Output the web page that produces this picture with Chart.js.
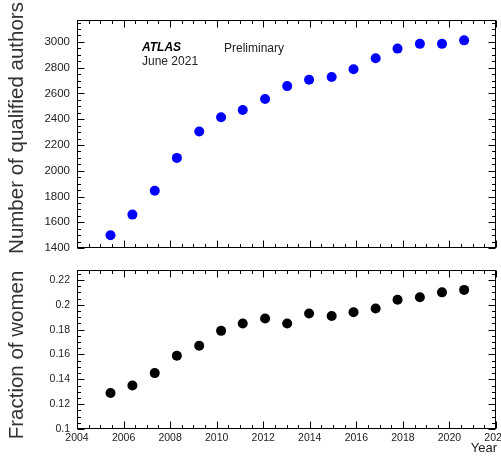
<!DOCTYPE html>
<html>
<head>
<meta charset="utf-8">
<script src="https://cdn.jsdelivr.net/npm/chart.js@4/dist/chart.umd.min.js"></script>
<style>
  html, body { margin: 0; padding: 0; background: #fff; }
  #wrap { position: relative; width: 501px; height: 456px; overflow: hidden; background: #fff; }
  canvas { position: absolute; left: 0; }
</style>
</head>
<body>
<div id="wrap">
  <canvas id="top" width="501" height="262" style="top:0"></canvas>
  <canvas id="bottom" width="501" height="194" style="top:262px"></canvas>
</div>
<script>
// ---- data ----
const years = [2005.44, 2006.38, 2007.34, 2008.29, 2009.25, 2010.19, 2011.12, 2012.08, 2013.03,
               2013.97, 2014.94, 2015.88, 2016.83, 2017.77, 2018.73, 2019.68, 2020.63];
const qualifiedAuthors = [1500, 1660, 1845, 2100, 2305, 2415, 2472, 2557, 2657,
                          2706, 2728, 2788, 2873, 2948, 2985, 2985, 3012];
const fractionOfWomen = [0.129, 0.135, 0.145, 0.159, 0.167, 0.179, 0.185, 0.189, 0.185,
                         0.193, 0.191, 0.194, 0.197, 0.204, 0.206, 0.210, 0.212];
const yearTicks = [2004, 2006, 2008, 2010, 2012, 2014, 2016, 2018, 2020, 2022];
const yearTickLabels = ['2004', '2006', '2008', '2010', '2012', '2014', '2016', '2018', '2020', '2022'];
const authorTicks = [1400, 1600, 1800, 2000, 2200, 2400, 2600, 2800, 3000];
const authorTickLabels = ['1400', '1600', '1800', '2000', '2200', '2400', '2600', '2800', '3000'];
const fractionTicks = [0.1, 0.12, 0.14, 0.16, 0.18, 0.2, 0.22];
const fractionTickLabels = ['0.1', '0.12', '0.14', '0.16', '0.18', '0.2', '0.22'];

const FONT = '"Liberation Sans", Arial, Helvetica, sans-serif';

// ROOT-style frame with inward ticks on all four sides
const frameTicks = {
  id: 'frameTicks',
  afterDatasetsDraw(chart, args, o) {
    const { ctx, chartArea: a, scales: { x, y } } = chart;
    ctx.save();
    ctx.strokeStyle = '#000';
    ctx.lineWidth = 1;
    const L = Math.round(a.left) + 0.5, R = Math.round(a.right) - 0.5;
    const T = Math.round(a.top) + 0.5, B = Math.round(a.bottom) - 0.5;
    ctx.strokeRect(L, T, R - L, B - T);
    ctx.beginPath();
    const nx = Math.round((o.xMax - o.xMin) / o.xMinor);
    for (let i = 0; i <= nx; i++) {
      const v = o.xMin + i * o.xMinor;
      const px = Math.round(x.getPixelForValue(v)) + 0.5;
      const len = (i % o.xSub === 0) ? o.major : o.minor;
      ctx.moveTo(px, B); ctx.lineTo(px, B - len);
      ctx.moveTo(px, T); ctx.lineTo(px, T + len);
    }
    const ny = Math.floor((o.yMax - o.yMin) / o.yMinor + 1e-6);
    for (let i = 0; i <= ny; i++) {
      const v = o.yMin + i * o.yMinor;
      const py = Math.round(y.getPixelForValue(v)) + 0.5;
      const len = (i % o.ySub === 0) ? o.major : o.minor;
      ctx.moveTo(L, py); ctx.lineTo(L + len, py);
      ctx.moveTo(R, py); ctx.lineTo(R - len, py);
    }
    ctx.stroke();
    ctx.restore();
  }
};

// axis titles and labels as text
const texts = {
  id: 'texts',
  afterDraw(chart, args, o) {
    const ctx = chart.ctx;
    ctx.save();
    (o.items || []).forEach(t => {
      ctx.save();
      ctx.fillStyle = t.color || '#222';
      ctx.font = t.font;
      ctx.textAlign = t.align || 'left';
      ctx.textBaseline = t.baseline || 'middle';
      ctx.translate(t.x, t.y);
      if (t.rotate) ctx.rotate(t.rotate);
      ctx.fillText(t.text, 0, 0);
      ctx.restore();
    });
    ctx.restore();
  }
};

function setTicks(values) {
  return function (scale) { scale.ticks = values.map(v => ({ value: v })); };
}

// ---- top panel ----
new Chart(document.getElementById('top'), {
  type: 'scatter',
  data: {
    datasets: [{
      data: years.map((yr, i) => ({ x: yr, y: qualifiedAuthors[i] })),
      backgroundColor: '#0000ff',
      borderWidth: 0,
      pointRadius: 5,
      pointHoverRadius: 5
    }]
  },
  options: {
    responsive: false,
    animation: false,
    events: [],
    layout: { padding: { left: 0, right: 5, top: 20, bottom: 5 } },
    plugins: {
      legend: { display: false },
      tooltip: { enabled: false },
      frameTicks: { xMin: 2004, xMax: 2022, xMinor: 0.5, xSub: 4,
                    yMin: 1400, yMax: 3170, yMinor: 50, ySub: 4, major: 7, minor: 3.5 },
      texts: { items: [
        { text: 'Number of qualified authors', x: 17, y: 128, rotate: -Math.PI / 2, align: 'center',
          font: '20.5px ' + FONT, color: '#333' },
        { text: 'ATLAS', x: 142, y: 48, font: 'italic bold 12px ' + FONT, color: '#000' },
        { text: 'June 2021', x: 142, y: 62, font: '12px ' + FONT, color: '#222' },
        { text: 'Preliminary', x: 224, y: 48.5, font: '12px ' + FONT, color: '#222' }
      ] }
    },
    scales: {
      x: { type: 'linear', min: 2004, max: 2022, display: false },
      y: {
        type: 'linear', min: 1400, max: 3170,
        afterBuildTicks: setTicks(authorTicks),
        afterFit(s) { s.width = 77; },
        grid: { display: false, drawTicks: false },
        border: { display: false },
        ticks: {
          padding: 7, color: '#222', font: { family: FONT, size: 11.5 },
          callback: (v) => authorTickLabels[authorTicks.indexOf(v)] ?? ''
        }
      }
    }
  },
  plugins: [frameTicks, texts]
});

// ---- bottom panel ----
new Chart(document.getElementById('bottom'), {
  type: 'scatter',
  data: {
    datasets: [{
      data: years.map((yr, i) => ({ x: yr, y: fractionOfWomen[i] })),
      backgroundColor: '#000000',
      borderWidth: 0,
      pointRadius: 5,
      pointHoverRadius: 5
    }]
  },
  options: {
    responsive: false,
    animation: false,
    events: [],
    layout: { padding: { left: 0, right: 5, top: 8, bottom: 0 } },
    plugins: {
      legend: { display: false },
      tooltip: { enabled: false },
      frameTicks: { xMin: 2004, xMax: 2022, xMinor: 0.5, xSub: 4,
                    yMin: 0.1, yMax: 0.228, yMinor: 0.005, ySub: 4, major: 7, minor: 3.5 },
      texts: { items: [
        { text: 'Fraction of women', x: 17, y: 93, rotate: -Math.PI / 2, align: 'center',
          font: '20.5px ' + FONT, color: '#333' },
        { text: 'Year', x: 497, y: 193, align: 'right', baseline: 'bottom',
          font: '13px ' + FONT, color: '#222' }
      ] }
    },
    scales: {
      x: {
        type: 'linear', min: 2004, max: 2022,
        afterBuildTicks: setTicks(yearTicks),
        afterFit(s) { s.height = 27; s.paddingLeft = 0; s.paddingRight = 0; },
        grid: { display: false, drawTicks: false },
        border: { display: false },
        ticks: {
          padding: 3, autoSkip: false, maxRotation: 0, color: '#222',
          font: { family: FONT, size: 10.5 },
          callback: (v) => yearTickLabels[yearTicks.indexOf(v)] ?? ''
        }
      },
      y: {
        type: 'linear', min: 0.1, max: 0.228,
        afterBuildTicks: setTicks(fractionTicks),
        afterFit(s) { s.width = 77; s.paddingTop = 0; s.paddingBottom = 0; },
        grid: { display: false, drawTicks: false },
        border: { display: false },
        ticks: {
          padding: 7, color: '#222', font: { family: FONT, size: 10.5 },
          callback: (v) => {
            const i = fractionTicks.findIndex(t => Math.abs(t - v) < 1e-9);
            return i >= 0 ? fractionTickLabels[i] : '';
          }
        }
      }
    }
  },
  plugins: [frameTicks, texts]
});
</script>
</body>
</html>
